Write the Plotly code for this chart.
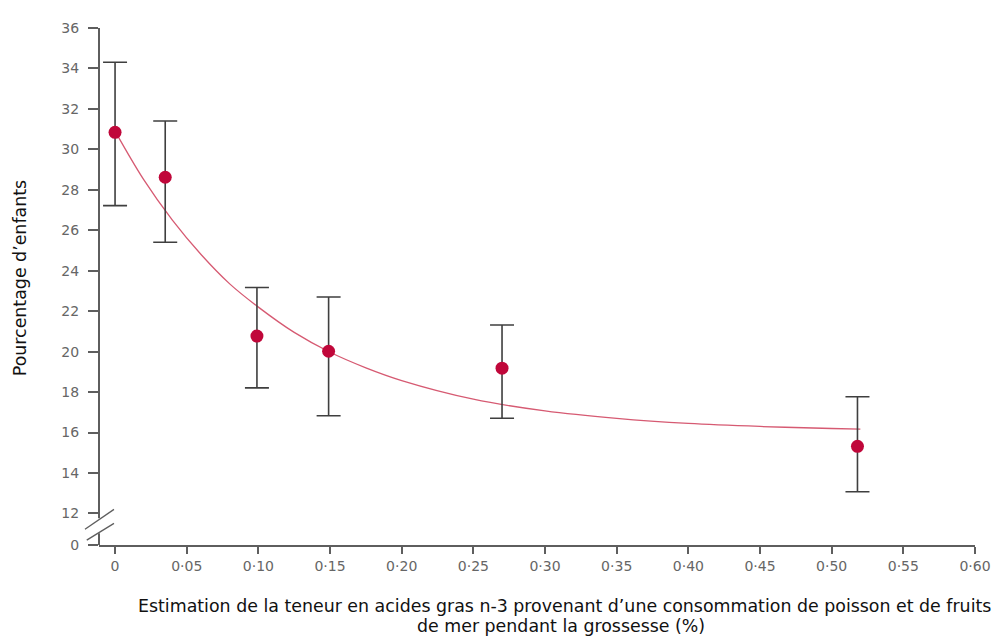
import plotly.graph_objects as go

# ---- data ----
x_points = [0.0, 0.035, 0.099, 0.149, 0.270, 0.518]
y_points = [30.84, 28.62, 20.77, 20.02, 19.18, 15.32]
err_upper = [34.31, 31.40, 23.17, 22.70, 21.32, 17.77]
err_lower = [27.22, 25.41, 18.21, 16.83, 16.71, 13.07]

curve_x = [0.0, 0.02, 0.04, 0.06, 0.08, 0.10, 0.125, 0.15, 0.175, 0.20,
           0.25, 0.30, 0.35, 0.40, 0.45, 0.50, 0.52]
curve_y = [30.9, 28.5, 26.5, 24.8, 23.35, 22.2, 20.95, 19.97, 19.2, 18.57,
           17.65, 17.07, 16.7, 16.45, 16.3, 16.2, 16.17]

x_tickvals = [0.0, 0.05, 0.10, 0.15, 0.20, 0.25, 0.30, 0.35, 0.40, 0.45, 0.50, 0.55, 0.60]
x_ticktext = ["0", "0·05", "0·10", "0·15", "0·20", "0·25", "0·30", "0·35",
              "0·40", "0·45", "0·50", "0·55", "0·60"]
y_break_pos = 10.44  # axis position where the "0" label sits (below the break)
y_tickvals = [y_break_pos, 12, 14, 16, 18, 20, 22, 24, 26, 28, 30, 32, 34, 36]
y_ticktext = ["0", "12", "14", "16", "18", "20", "22", "24", "26", "28", "30", "32", "34", "36"]

x_title_line1 = "Estimation de la teneur en acides gras n-3 provenant d’une consommation de poisson et de fruits"
x_title_line2 = "de mer pendant la grossesse (%)"
y_title = "Pourcentage d’enfants"

AXIS_COLOR = "#5e5e5e"
TICK_FONT = dict(family="DejaVu Sans", size=14, color="#666666")
TITLE_FONT = dict(family="DejaVu Sans", size=17.4, color="#111111")

fig = go.Figure()

fig.add_trace(go.Scatter(
    x=curve_x, y=curve_y, mode="lines",
    line=dict(color="#d65a72", width=1.3, shape="spline"),
    hoverinfo="skip", showlegend=False,
))

fig.add_trace(go.Scatter(
    x=x_points, y=y_points, mode="markers",
    marker=dict(color="#c0073a", size=13),
    error_y=dict(
        type="data", symmetric=False,
        array=[u - y for u, y in zip(err_upper, y_points)],
        arrayminus=[y - l for l, y in zip(err_lower, y_points)],
        color="#3f3f3f", thickness=1.6, width=12,
    ),
    showlegend=False,
))

# y axis line with break marks
shapes = [
    dict(type="line", xref="paper", yref="y", x0=0, x1=0, y0=36, y1=11.76,
         line=dict(color=AXIS_COLOR, width=2)),
    dict(type="line", xref="paper", yref="y", x0=0, x1=0, y0=11.02, y1=y_break_pos,
         line=dict(color=AXIS_COLOR, width=2)),
    dict(type="line", xref="paper", yref="y", x0=-0.016, x1=0.0171, y0=11.22, y1=12.20,
         line=dict(color=AXIS_COLOR, width=1.3)),
    dict(type="line", xref="paper", yref="y", x0=-0.014, x1=0.0171, y0=10.68, y1=11.51,
         line=dict(color=AXIS_COLOR, width=1.3)),
]

fig.update_layout(
    width=1001, height=644,
    margin=dict(l=91, r=34, t=14, b=107),
    paper_bgcolor="white", plot_bgcolor="white",
    shapes=shapes,
    xaxis=dict(
        range=[-0.0112, 0.60], tickvals=x_tickvals, ticktext=x_ticktext,
        showgrid=False, zeroline=False, showline=True, linecolor=AXIS_COLOR, linewidth=2,
        ticks="outside", ticklen=7, tickcolor=AXIS_COLOR, tickwidth=1.5,
        tickfont=TICK_FONT,
    ),
    yaxis=dict(
        range=[y_break_pos, 36], tickvals=y_tickvals, ticktext=y_ticktext,
        showgrid=False, zeroline=False, showline=False,
        ticks="outside", ticklen=10, tickcolor=AXIS_COLOR, tickwidth=1.5,
        tickfont=TICK_FONT, ticklabelstandoff=6,
    ),
    annotations=[
        dict(text=x_title_line1, xref="paper", yref="paper", x=0.531, y=-0.1185,
             xanchor="center", yanchor="middle", showarrow=False,
             font=TITLE_FONT),
        dict(text=x_title_line2, xref="paper", yref="paper", x=0.527, y=-0.157,
             xanchor="center", yanchor="middle", showarrow=False,
             font=TITLE_FONT),
        dict(text=y_title, xref="paper", yref="paper", x=-0.0902, y=0.516,
             xanchor="center", yanchor="middle", showarrow=False, textangle=-90,
             font=TITLE_FONT),
    ],
)

fig.write_html("out.html")
